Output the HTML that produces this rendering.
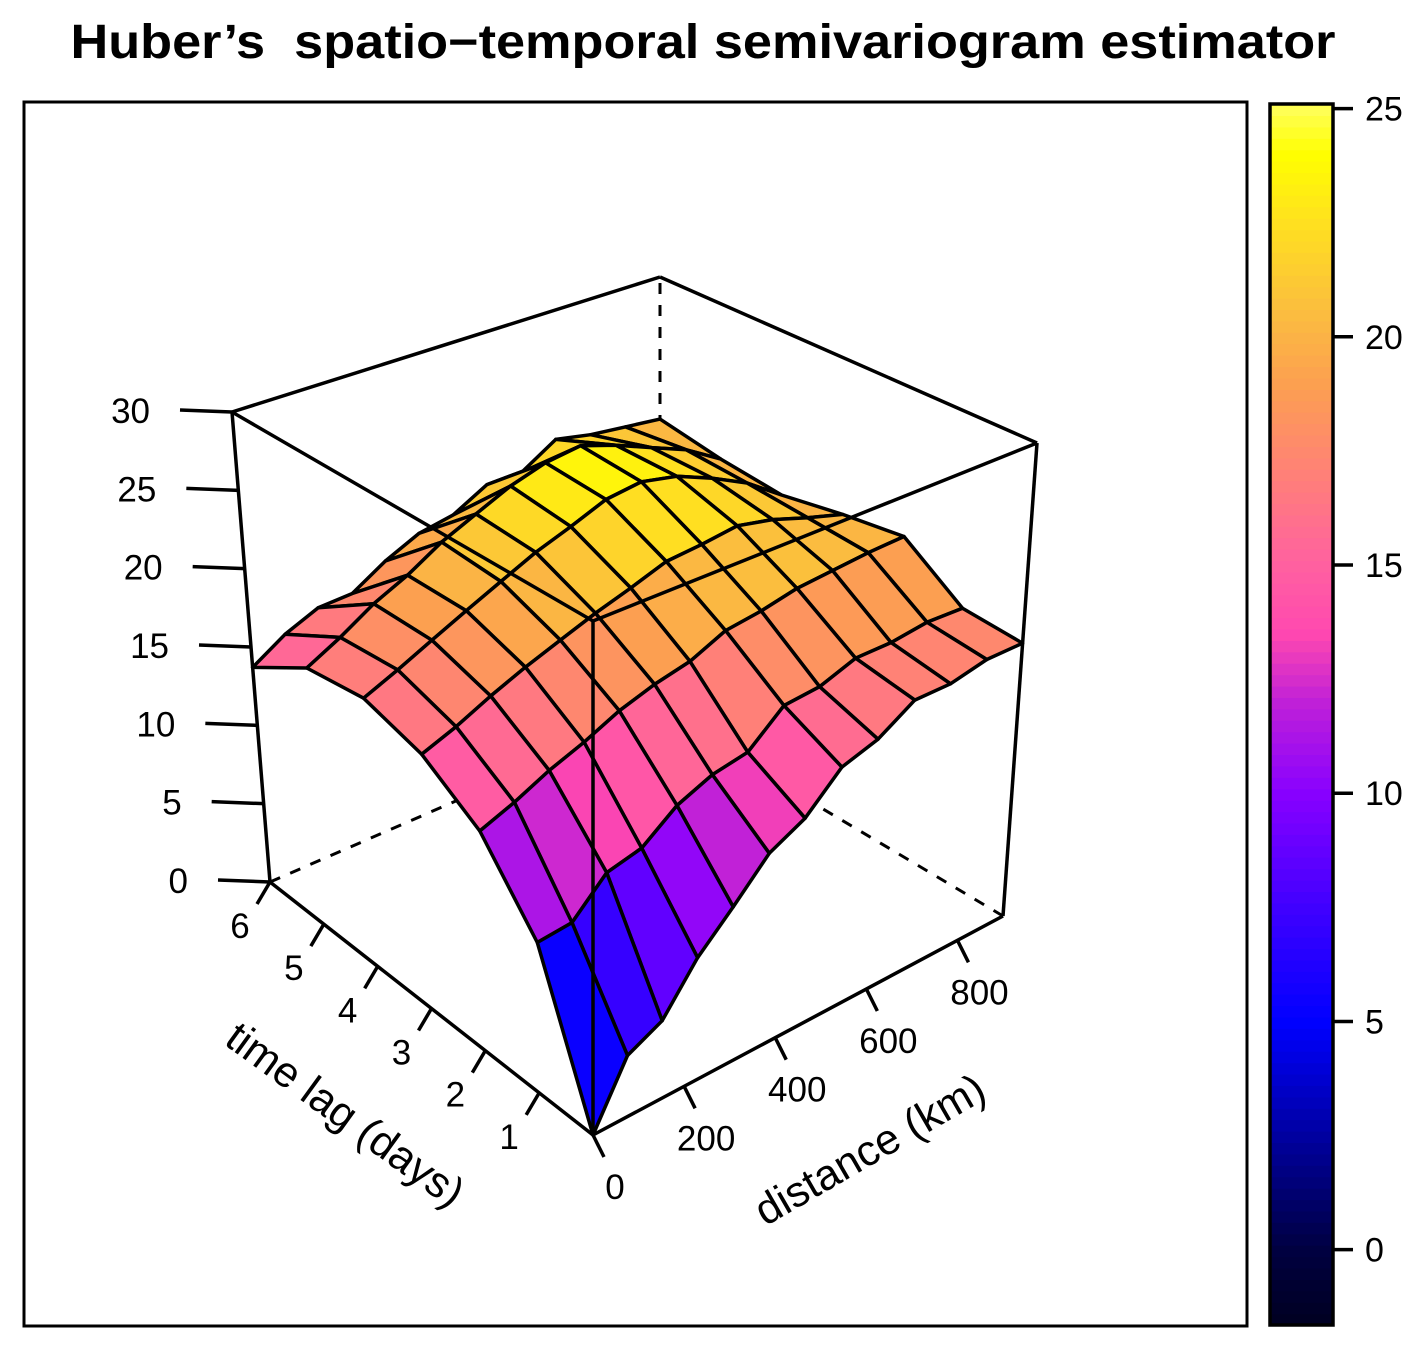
<!DOCTYPE html>
<html><head><meta charset="utf-8"><style>
html,body{margin:0;padding:0;background:#fff;}
svg{display:block;font-family:"Liberation Sans",sans-serif;}
</style></head><body>
<svg id="chart" width="1424" height="1359" viewBox="0 0 1424 1359" xmlns="http://www.w3.org/2000/svg">
<text x="703" y="58" text-anchor="middle" font-size="48" font-weight="bold" textLength="1265" lengthAdjust="spacingAndGlyphs" style="white-space:pre">Huber’s  spatio−temporal semivariogram estimator</text>
<rect x="24" y="102" width="1223" height="1224" fill="none" stroke="#000" stroke-width="3"/>
<g id="colorbar"></g>
<g id="hidden"></g>
<g id="surface"></g>
<g id="box"></g>
<g id="axes"></g>
<text x="345" y="1129" text-anchor="middle" font-size="43" transform="rotate(36 345 1115)">time lag (days)</text>
<text x="870" y="1164" text-anchor="middle" font-size="43" transform="rotate(-30 870 1150)">distance (km)</text>
</svg>
<script>
// ---- data ----
const distances = [0,75,150,225,300,375,450,525,600,675,750,825,900];
const timeLags = [0,1,2,3,4,5,6];
const gammaT0 = [0,3.6,4.6,7.3,9.3,11.5,12.6,14.7,15.4,16.8,16.8,17.3,17.3];
const gammaT1 = [8.9,9.1,11.1,11.6,13.2,14.1,14.5,16.4,16.6,17.4,17.4,17.7,17.6];
const gammaT2 = [13.2,14,15,15.8,16.8,17.5,18,19,19.3,19.8,20,20.2,20.3];
const gammaT3 = [15.5,16.3,17.3,18.2,19,19.8,20.5,21.3,21.5,21.8,21.3,20.5,19.8];
const gammaT4 = [16.6,17.5,18.5,19.5,20.5,21.5,22.3,23.2,23.5,23,22,20.8,19.1];
const gammaT5 = [16.1,17.2,18.5,19.5,20.8,21.8,22.8,23.5,23.8,23,22,21,19.5];
const gammaT6 = [13.7,15.0,15.9,16.0,17.3,18.3,18.7,19.9,19.9,21.3,20.8,20.5,20.2];
const zTicks = [0,5,10,15,20,25,30];
const timeTicks = [1,2,3,4,5,6];
const distTicks = [0,200,400,600,800];
const colorbarTicks = [0,5,10,15,20,25];

const rows=[gammaT0,gammaT1,gammaT2,gammaT3,gammaT4,gammaT5,gammaT6];
const NS="http://www.w3.org/2000/svg";
const D_MAX=900,T_MAX=6,Z_MAX=30;
const C={p000:[593,1135],p100:[1003,916],p010:[270,882],p110:[660,712],
 p001:[593,621],p101:[1037,443],p011:[232,412],p111:[660,277]};
function lerp(a,b,f){return [a[0]+(b[0]-a[0])*f,a[1]+(b[1]-a[1])*f];}
function proj(d,t,z){
 const u=d/D_MAX,v=t/T_MAX,w=z/Z_MAX;
 const b0=lerp(lerp(C.p000,C.p100,u),lerp(C.p010,C.p110,u),v);
 const b1=lerp(lerp(C.p001,C.p101,u),lerp(C.p011,C.p111,u),v);
 return lerp(b0,b1,w);
}
const stops=[[-1.7,[0,0,32]],[0,[0,0,64]],[2.5,[0,0,160]],[5,[0,0,255]],[7.5,[64,0,255]],[10,[136,0,255]],
 [12,[192,32,216]],[13.5,[255,72,176]],[15,[255,96,160]],[17,[255,128,120]],[19,[252,160,80]],
 [20.5,[251,188,64]],[22.5,[255,224,32]],[24,[255,255,0]],[25.3,[255,255,112]]];
function col(v){
 if(v<=stops[0][0])return 'rgb('+stops[0][1]+')';
 for(let i=1;i<stops.length;i++){ if(v<=stops[i][0]){const a=stops[i-1],b=stops[i],f=(v-a[0])/(b[0]-a[0]);
  return 'rgb('+a[1].map((c,k)=>Math.round(c+(b[1][k]-c)*f)).join(',')+')';}}
 return 'rgb('+stops[stops.length-1][1]+')';
}
function mk(tag,attrs,parent){const e=document.createElementNS(NS,tag);for(const k in attrs)e.setAttribute(k,attrs[k]);parent.appendChild(e);return e;}
function line(p,q,parent,extra){return mk('line',Object.assign({x1:p[0],y1:p[1],x2:q[0],y2:q[1],stroke:'#000','stroke-width':3.5},extra||{}),parent);}

// colorbar
const cb=document.getElementById('colorbar');
const cbTop=104,cbBot=1325,vTop=25.1,vBot=-1.65;
function cbY(v){return cbBot-(v-vBot)/(vTop-vBot)*(cbBot-cbTop);}
for(let v=vBot;v<vTop;v+=0.25){
 const r=mk('rect',{x:1270,y:cbY(Math.min(v+0.25,vTop)),width:63,height:cbY(v)-cbY(Math.min(v+0.25,vTop))+0.6,fill:col(v+0.125)},cb);
 
 
}
const cbr=mk('rect',{x:1270,y:cbTop,width:63,height:cbBot-cbTop,fill:'none',stroke:'#000','stroke-width':3.5},cb);


colorbarTicks.forEach(v=>{const y=cbY(v);
 const l=line([1333,y],[1353,y],cb);
 
 
 const tx=mk('text',{x:1365,y:y+12,'font-size':34},cb);tx.textContent=v;
 
 
});

// hidden box edges
const hid=document.getElementById('hidden');
[[C.p010,C.p110],[C.p100,C.p110],[C.p110,C.p111]].forEach(e=>{
 const l=line(e[0],e[1],hid,{'stroke-dasharray':'11,11','stroke-width':3});
 
 
});

// surface
const surf=document.getElementById('surface');
const cells=[];
for(let j=0;j<timeLags.length-1;j++)for(let i=0;i<distances.length-1;i++)cells.push([i,j]);
cells.sort((a,b)=>(b[0]/12+b[1]/6)-(a[0]/12+a[1]/6));
cells.forEach(([i,j])=>{
 const pts=[[i,j],[i+1,j],[i+1,j+1],[i,j+1]];
 const zs=pts.map(([a,b])=>rows[b][a]);
 const mean=zs.reduce((s,v)=>s+v,0)/4;
 const xy=pts.map(([a,b])=>proj(distances[a],timeLags[b],rows[b][a]));
 const p=mk('polygon',{points:xy.map(q=>q[0].toFixed(1)+','+q[1].toFixed(1)).join(' '),fill:col(mean),stroke:'#000','stroke-width':3.5,'stroke-linejoin':'round'},surf);
 
 
});

// visible box edges
const box=document.getElementById('box');
[[C.p000,C.p100],[C.p000,C.p010],[C.p010,C.p011],[C.p100,C.p101],[C.p000,C.p001],
 [C.p011,C.p111],[C.p111,C.p101],[C.p011,C.p001],[C.p001,C.p101]].forEach(e=>{
 const l=line(e[0],e[1],box);
 
 
});

// axes ticks
const ax=document.getElementById('axes');
zTicks.forEach(z=>{const p=proj(0,T_MAX,z);
 const l=line(p,[p[0]-52,p[1]-2],ax);
 
 
 const t=mk('text',{x:p[0]-82,y:p[1]+11,'font-size':35,'text-anchor':'end'},ax);t.textContent=z;
 
 
});
timeTicks.forEach(v=>{const p=proj(0,v,0);
 const l=line(p,[p[0]-13,p[1]+22],ax);
 
 
 const t=mk('text',{x:p[0]-30,y:p[1]+56,'font-size':35,'text-anchor':'middle'},ax);t.textContent=v;
 
 
});
distTicks.forEach(v=>{const p=proj(v,0,0);
 const l=line(p,[p[0]+11,p[1]+22],ax);
 
 
 const t=mk('text',{x:p[0]+22,y:p[1]+64,'font-size':35,'text-anchor':'middle'},ax);t.textContent=v;
 
 
});
</script>
</body></html>
